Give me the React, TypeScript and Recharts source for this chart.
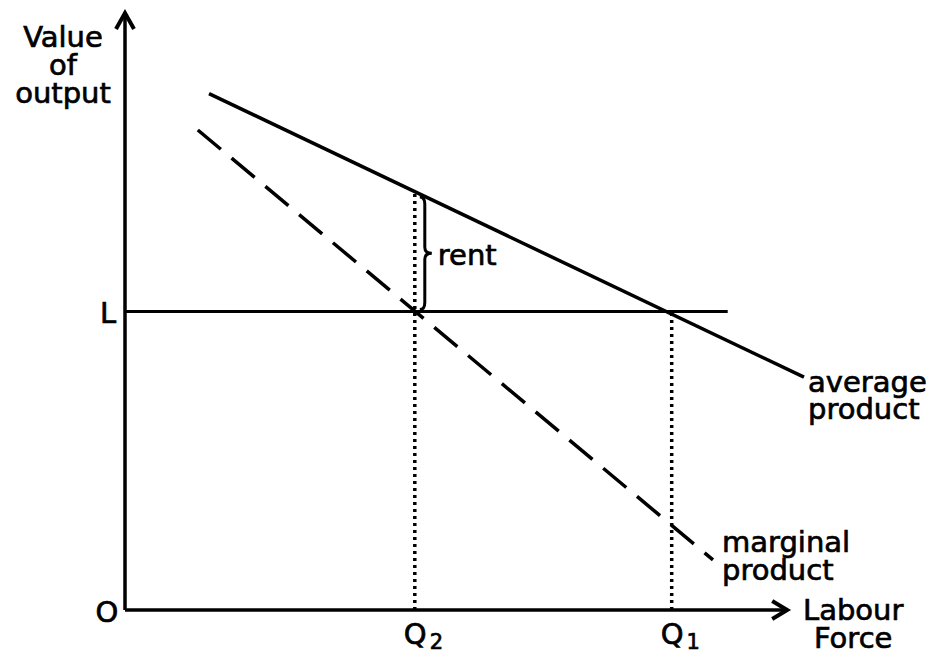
import React from 'react';
import { LineChart, Line, XAxis, YAxis, ReferenceLine, ReferenceDot } from 'recharts';

// chart units: x 0..100 labour force, y 0..100 value of output
const averageProduct = [
  { x: 12, y: 86.5 },
  { x: 97, y: 39 },
];
const marginalProduct = [
  { x: 10.4, y: 80.4 },
  { x: 84, y: 8.4 },
];
const xAxisLine = [
  { x: 0, y: 0 },
  { x: 94.6, y: 0 },
];
const yAxisLine = [
  { x: 0, y: 0 },
  { x: 0, y: 100 },
];
const wageLevel = 50; // L
const wageLineEnd = 86.1;
const q2 = 41.4;
const q1 = 78.1;
const apAtQ2 = 70;

const FONT = '"DejaVu Sans", sans-serif';
const FS = 29;

const arrowDot = (dir: 'x' | 'y') => (props: any) => {
  const { cx, cy, index } = props;
  if (index !== 1) return <g key={`a-${dir}-${index}`} />;
  const d =
    dir === 'x'
      ? `M${cx - 15} ${cy - 9} L${cx} ${cy} L${cx - 15} ${cy + 9}`
      : `M${cx - 9} ${cy + 16} L${cx} ${cy} L${cx + 9} ${cy + 16}`;
  return (
    <path key={`a-${dir}`} d={d} stroke="#000" strokeWidth={4} fill="none" strokeLinejoin="miter" />
  );
};

const label = (
  key: string,
  x: number,
  y: number,
  lines: string[],
  dx: number,
  dy: number,
  anchor: 'start' | 'middle' | 'end' = 'start',
  lineGap = 27,
) => (
  <ReferenceDot
    key={key}
    x={x}
    y={y}
    r={0}
    ifOverflow="visible"
    shape={(p: any) => (
      <text
        x={p.cx + dx}
        y={p.cy + dy}
        textAnchor={anchor}
        fontFamily={FONT}
        fontSize={FS}
        fill="#000"
        stroke="#000"
        strokeWidth={0.7}
      >
        {lines.map((t, i) => (
          <tspan key={i} x={p.cx + dx} dy={i === 0 ? 0 : lineGap}>
            {t}
          </tspan>
        ))}
      </text>
    )}
  />
);

const qLabel = (key: string, x: number, sub: string) => (
  <ReferenceDot
    key={key}
    x={x}
    y={0}
    r={0}
    ifOverflow="visible"
    shape={(p: any) => (
      <text
        x={p.cx - 11}
        y={p.cy + 34}
        fontFamily={FONT}
        fontSize={FS}
        fill="#000"
        stroke="#000"
        strokeWidth={0.7}
      >
        Q
        <tspan fontSize={21} dx={3} dy={5}>
          {sub}
        </tspan>
      </text>
    )}
  />
);

const Brace = (props: any) => {
  const { x1, y1, y2 } = props;
  const top = Math.min(y1, y2) + 5;
  const bot = Math.max(y1, y2) - 2;
  const mid = (top + bot) / 2;
  const x0 = x1 + 10;
  const d = `M${x0 - 5} ${top} Q${x0} ${top} ${x0} ${top + 7} L${x0} ${mid - 6} Q${x0} ${mid} ${x0 + 7} ${mid} Q${x0} ${mid} ${x0} ${mid + 6} L${x0} ${bot - 7} Q${x0} ${bot} ${x0 - 5} ${bot}`;
  return <path d={d} stroke="#000" strokeWidth={3} fill="none" />;
};

export default function App() {
  return (
    <div style={{ position: 'fixed', left: 0, top: 0, background: '#fff' }}>
      <LineChart
        width={934}
        height={655}
        margin={{ top: 13, right: 109, left: 125, bottom: 45 }}
      >
        <XAxis type="number" dataKey="x" domain={[0, 100]} hide />
        <YAxis type="number" dataKey="y" domain={[0, 100]} hide />

        <ReferenceLine
          segment={[{ x: q2, y: 0 }, { x: q2, y: apAtQ2 }]}
          stroke="#000"
          strokeWidth={3.5}
          strokeDasharray="3 4"
          ifOverflow="visible"
        />
        <ReferenceLine
          segment={[{ x: q1, y: 0 }, { x: q1, y: wageLevel }]}
          stroke="#000"
          strokeWidth={3.5}
          strokeDasharray="3 4"
          ifOverflow="visible"
        />
        <ReferenceLine
          segment={[{ x: 0, y: wageLevel }, { x: wageLineEnd, y: wageLevel }]}
          stroke="#000"
          strokeWidth={3}
          ifOverflow="visible"
        />
        <ReferenceLine
          segment={[{ x: q2, y: wageLevel }, { x: q2, y: apAtQ2 }]}
          ifOverflow="visible"
          shape={Brace}
        />

        <Line
          data={xAxisLine}
          dataKey="y"
          stroke="#000"
          strokeWidth={3.5}
          dot={arrowDot('x')}
          activeDot={false}
          isAnimationActive={false}
        />
        <Line
          data={yAxisLine}
          dataKey="y"
          stroke="#000"
          strokeWidth={3.5}
          dot={arrowDot('y')}
          activeDot={false}
          isAnimationActive={false}
        />
        <Line
          data={averageProduct}
          dataKey="y"
          stroke="#000"
          strokeWidth={3.5}
          dot={false}
          activeDot={false}
          isAnimationActive={false}
        />
        <Line
          data={marginalProduct}
          dataKey="y"
          stroke="#000"
          strokeWidth={3.5}
          strokeDasharray="30 14"
          dot={false}
          activeDot={false}
          isAnimationActive={false}
        />

        {label('vo', 0, 100, ['Value', 'of', 'output'], -62, 34, 'middle', 28)}
        {label('o', 0, 0, ['O'], -18, 12, 'middle')}
        {label('l', 0, wageLevel, ['L'], -17, 11, 'middle')}
        {label('rent', q2, (wageLevel + apAtQ2) / 2, ['rent'], 23, 13)}
        {label('ap', averageProduct[1].x, averageProduct[1].y, ['average', 'product'], 4, 15)}
        {label('mp', marginalProduct[1].x, marginalProduct[1].y, ['marginal', 'product'], 9, -8, 'start', 28)}
        {label('lf', xAxisLine[1].x, 0, ['Labour', 'Force'], 66, 10, 'middle', 28)}
        {qLabel('q2', q2, '2')}
        {qLabel('q1', q1, '1')}
      </LineChart>
    </div>
  );
}
